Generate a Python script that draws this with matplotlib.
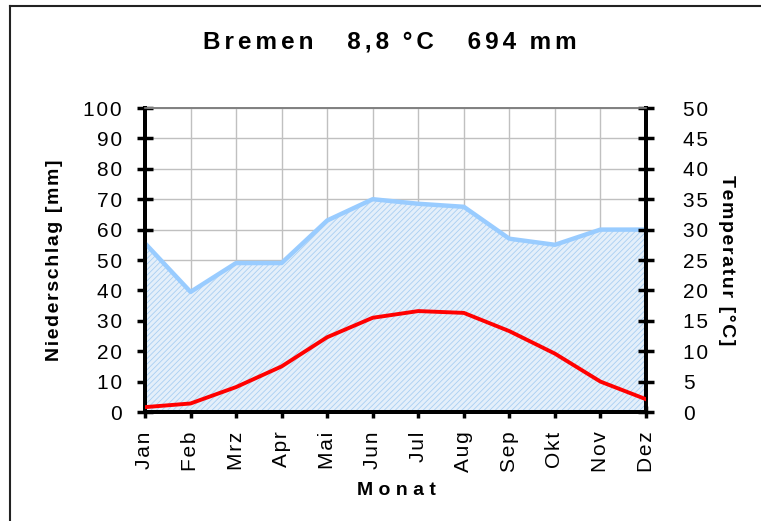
import numpy as np
import matplotlib
matplotlib.use("Agg")
import matplotlib.pyplot as plt
from matplotlib.lines import Line2D

plt.rcParams['font.family'] = ['Liberation Sans', 'DejaVu Sans']
plt.rcParams['hatch.linewidth'] = 0.6

monate = ['Jan', 'Feb', 'Mrz', 'Apr', 'Mai', 'Jun', 'Jul', 'Aug', 'Sep', 'Okt', 'Nov', 'Dez']
niederschlag = [55.5, 39.5, 49, 49, 63, 70, 68.5, 67.5, 57, 55, 60, 60]
temperatur = [0.8, 1.4, 4.1, 7.5, 12.3, 15.5, 16.6, 16.3, 13.3, 9.6, 5.0, 2.1]
ticks_n = list(range(0, 101, 10))
ticks_t = list(range(0, 51, 5))

HAIR = '\u200a'

def sperren(s, sep=HAIR):
    # Buchstaben auseinanderziehen wie im Original (Excel-Look)
    return sep.join(s)

x = np.arange(len(monate))

fig = plt.figure(figsize=(7.61, 5.21), dpi=100)
ax = fig.add_axes([145/761, 1 - 412/521, 501/761, 304/521])
ax2 = ax.twinx()

# Niederschlag als schraffierte Flaeche
ax.fill_between(x, niederschlag, 0, facecolor='#e4effa', edgecolor='#a9cff2',
                hatch='//////', linewidth=0, zorder=2)
ax.plot(x, niederschlag, color='#99ccff', lw=3.2, zorder=3)
ax2.plot(x, temperatur, color='#ff0000', lw=2.8, zorder=3)

ax.set_xlim(0, 11)
ax.set_ylim(0, 100)
ax2.set_ylim(0, 50)
ax.set_yticks(ticks_n)
ax.set_yticklabels([sperren(str(v)) for v in ticks_n])
ax2.set_yticks(ticks_t)
ax2.set_yticklabels([sperren(str(v)) for v in ticks_t])
ax.set_xticks(x)
ax.set_xticklabels([sperren(m) for m in monate], rotation=90, fontsize=15)
ax.tick_params(axis='y', labelsize=15, direction='inout', length=11, width=2.5, pad=11)
ax2.tick_params(axis='y', labelsize=15, direction='inout', length=11, width=2.5, pad=21)
ax.tick_params(axis='x', direction='inout', length=8, width=2.5, pad=10)

ax.grid(True, color='#c0c0c0', lw=1)
ax.set_axisbelow(True)

for a in (ax, ax2):
    for s in ('left', 'right', 'bottom'):
        a.spines[s].set_linewidth(2.8)
        a.spines[s].set_color('black')
    a.spines['top'].set_color('#808080')
    a.spines['top'].set_linewidth(1.2)

ax.set_ylabel(sperren('Niederschlag [mm]'), fontsize=14, fontweight='bold', va='center')
ax.yaxis.set_label_coords(-0.18, 0.5)
ax2.set_ylabel(sperren('Temperatur [°C]'), fontsize=14, fontweight='bold', rotation=-90, va='center')
ax2.yaxis.set_label_coords(1.16, 0.5)
ax.set_xlabel('M o n a t', fontsize=14, fontweight='bold', va='center')
ax.xaxis.set_label_coords(0.501, -0.257)

T = HAIR * 2
titel = (sperren('Bremen', T) + '     ' + sperren('8,8', T) + '  ' + sperren('°C', T)
         + '     ' + sperren('694', T) + '  ' + sperren('mm', T))
fig.text(390/761, 1 - 42/521, titel, ha='center', va='center', fontsize=17.5, fontweight='bold')

# Rahmen (nur oben und links sichtbar)
fig.add_artist(Line2D([10/761, 10/761], [0, 1 - 5.5/521], transform=fig.transFigure, color='#222222', lw=1.5))
fig.add_artist(Line2D([10/761, 1], [1 - 5.5/521, 1 - 5.5/521], transform=fig.transFigure, color='#222222', lw=1.5))

fig.savefig('out.png', dpi=100)
